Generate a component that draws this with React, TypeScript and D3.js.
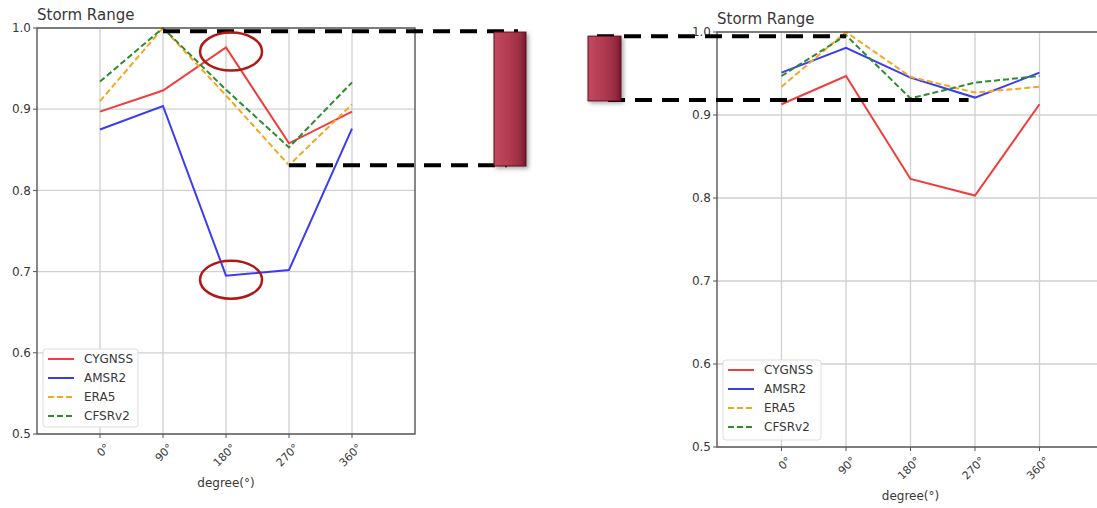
import React from "react";
import * as d3 from "d3";

const categories = ["0°", "90°", "180°", "270°", "360°"];
const yTicks = [0.5, 0.6, 0.7, 0.8, 0.9, 1.0];
const seriesNames = ["CYGNSS", "AMSR2", "ERA5", "CFSRv2"];
const seriesColors = ["#f23c3c", "#3b3bf5", "#f5a623", "#2e8b2e"];
const seriesDashed = [false, false, true, true];

const leftCYGNSS = [0.897, 0.923, 0.976, 0.858, 0.897];
const leftAMSR2 = [0.875, 0.904, 0.695, 0.702, 0.876];
const leftERA5 = [0.91, 1.0, 0.917, 0.831, 0.906];
const leftCFSRv2 = [0.934, 1.0, 0.924, 0.853, 0.933];

const rightCYGNSS = [0.913, 0.947, 0.823, 0.803, 0.913];
const rightAMSR2 = [0.951, 0.981, 0.945, 0.921, 0.951];
const rightERA5 = [0.934, 1.0, 0.946, 0.927, 0.934];
const rightCFSRv2 = [0.947, 0.996, 0.92, 0.939, 0.947];

const FONT = "DejaVu Sans, Liberation Sans, sans-serif";

type PanelProps = {
  x0: number;
  x1: number;
  yTop: number;
  yBot: number;
  series: number[][];
  legend: { x: number; y: number; w: number; h: number };
};

function makeScales(p: { x0: number; x1: number; yTop: number; yBot: number }) {
  const x = d3.scaleLinear().domain([-1, 5]).range([p.x0, p.x1]);
  const y = d3.scaleLinear().domain([0.5, 1.0]).range([p.yBot, p.yTop]);
  return { x, y };
}

function Panel({ x0, x1, yTop, yBot, series, legend }: PanelProps) {
  const { x, y } = makeScales({ x0, x1, yTop, yBot });
  const line = d3
    .line<number>()
    .x((_, i) => x(i))
    .y((d) => y(d));
  const axisColor = "#555";
  const textColor = "#383838";
  return (
    <g>
      {categories.map((c, i) => (
        <line key={"gx" + i} x1={x(i)} x2={x(i)} y1={yTop} y2={yBot} stroke="#d0d0d0" strokeWidth={1.3} />
      ))}
      {yTicks.map((t) => (
        <line key={"gy" + t} x1={x0} x2={x1} y1={y(t)} y2={y(t)} stroke="#d0d0d0" strokeWidth={1.3} />
      ))}
      {series.map((s, k) => (
        <path
          key={"s" + k}
          d={line(s) || ""}
          fill="none"
          stroke={seriesColors[k]}
          strokeWidth={2}
          strokeDasharray={seriesDashed[k] ? "6,3" : undefined}
        />
      ))}
      <rect x={x0} y={yTop} width={x1 - x0} height={yBot - yTop} fill="none" stroke={axisColor} strokeWidth={1.4} />
      {yTicks.map((t) => (
        <g key={"yt" + t}>
          <line x1={x0 - 4} x2={x0} y1={y(t)} y2={y(t)} stroke={axisColor} strokeWidth={1} />
          <text x={x0 - 6} y={y(t)} dy="0.35em" textAnchor="end" fontSize={12} fill={textColor} fontFamily={FONT}>
            {t.toFixed(1)}
          </text>
        </g>
      ))}
      {categories.map((c, i) => (
        <g key={"xt" + i}>
          <line x1={x(i)} x2={x(i)} y1={yBot} y2={yBot + 4} stroke={axisColor} strokeWidth={1} />
          <text
            transform={`translate(${x(i) + 5},${yBot + 9}) rotate(-45)`}
            textAnchor="end"
            dy="0.7em"
            fontSize={11}
            fill={textColor}
            fontFamily={FONT}
          >
            {c}
          </text>
        </g>
      ))}
      <text x={x(2)} y={yBot + 53} textAnchor="middle" fontSize={12} fill={textColor} fontFamily={FONT}>
        degree(°)
      </text>
      <text x={x0} y={yTop - 8} fontSize={15} fill={textColor} fontFamily={FONT}>
        Storm Range
      </text>
      <rect
        x={legend.x}
        y={legend.y}
        width={legend.w}
        height={legend.h}
        rx={3}
        fill="#fff"
        fillOpacity={0.85}
        stroke="#ddd"
        strokeWidth={1}
      />
      {seriesNames.map((n, k) => {
        const ly = legend.y + 10 + k * 19;
        return (
          <g key={"lg" + k}>
            <line
              x1={legend.x + 5}
              x2={legend.x + 31}
              y1={ly}
              y2={ly}
              stroke={seriesColors[k]}
              strokeWidth={2}
              strokeDasharray={seriesDashed[k] ? "6,3" : undefined}
            />
            <text x={legend.x + 41} y={ly} dy="0.35em" fontSize={12} fill={textColor} fontFamily={FONT}>
              {n}
            </text>
          </g>
        );
      })}
    </g>
  );
}

export default function App() {
  const L = { x0: 37, x1: 415, yTop: 28, yBot: 434 };
  const R = { x0: 717, x1: 1104, yTop: 32, yBot: 447 };
  const sL = makeScales(L);
  const sR = makeScales(R);
  const dash = { stroke: "#000", strokeWidth: 4, strokeDasharray: "17,10" };
  return (
    <svg width={1097} height={508} style={{ position: "absolute", left: 0, top: 0, background: "#fff" }}>
      <defs>
        <linearGradient id="barGrad" x1="0" x2="1" y1="0" y2="0">
          <stop offset="0" stopColor="#c24a60" />
          <stop offset="0.5" stopColor="#b03a50" />
          <stop offset="0.85" stopColor="#962a40" />
          <stop offset="1" stopColor="#6e1626" />
        </linearGradient>
        <filter id="shadow" x="-30%" y="-10%" width="160%" height="130%">
          <feDropShadow dx="2" dy="2" stdDeviation="2" floodColor="#000" floodOpacity="0.35" />
        </filter>
      </defs>
      <Panel
        {...L}
        series={[leftCYGNSS, leftAMSR2, leftERA5, leftCFSRv2]}
        legend={{ x: 43, y: 349, w: 95, h: 78 }}
      />
      <Panel
        {...R}
        series={[rightCYGNSS, rightAMSR2, rightERA5, rightCFSRv2]}
        legend={{ x: 723, y: 360, w: 98, h: 80 }}
      />
      <line x1={sL.x(1)} x2={518} y1={sL.y(0.996)} y2={sL.y(0.996)} {...dash} />
      <line x1={sL.x(3)} x2={507} y1={sL.y(0.831)} y2={sL.y(0.831)} {...dash} />
      <rect
        x={494}
        y={sL.y(0.995)}
        width={32}
        height={sL.y(0.83) - sL.y(0.995)}
        fill="url(#barGrad)"
        stroke="#5a1020"
        strokeWidth={1}
        filter="url(#shadow)"
      />
      <ellipse cx={sL.x(2.08)} cy={sL.y(0.971)} rx={31} ry={19} fill="none" stroke="#b01818" strokeWidth={2.5} />
      <ellipse cx={sL.x(2.08)} cy={sL.y(0.69)} rx={31} ry={19} fill="none" stroke="#b01818" strokeWidth={2.5} />
      <line x1={597} x2={sR.x(1)} y1={sR.y(0.995)} y2={sR.y(0.995)} {...dash} />
      <line x1={608} x2={sR.x(2.9)} y1={sR.y(0.918)} y2={sR.y(0.918)} {...dash} />
      <rect
        x={588}
        y={sR.y(0.995)}
        width={33}
        height={sR.y(0.917) - sR.y(0.995)}
        fill="url(#barGrad)"
        stroke="#5a1020"
        strokeWidth={1}
        filter="url(#shadow)"
      />
    </svg>
  );
}
